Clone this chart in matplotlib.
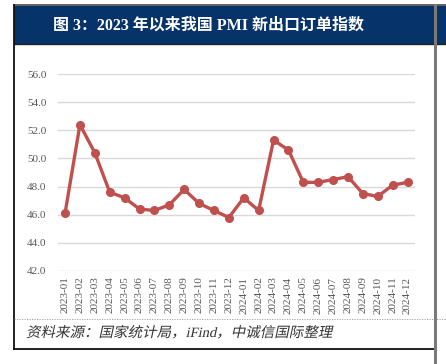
import matplotlib
matplotlib.use("Agg")
import matplotlib.pyplot as plt
from matplotlib.patches import Rectangle, PathPatch
from matplotlib.lines import Line2D
from matplotlib.textpath import TextPath
from matplotlib.font_manager import FontProperties
from matplotlib.transforms import Affine2D, IdentityTransform

months = ["2023-01", "2023-02", "2023-03", "2023-04", "2023-05", "2023-06",
          "2023-07", "2023-08", "2023-09", "2023-10", "2023-11", "2023-12",
          "2024-01", "2024-02", "2024-03", "2024-04", "2024-05", "2024-06",
          "2024-07", "2024-08", "2024-09", "2024-10", "2024-11", "2024-12"]
pmi_export = [46.1, 52.4, 50.4, 47.6, 47.2, 46.4, 46.3, 46.7, 47.8, 46.8, 46.3, 45.8,
              47.2, 46.3, 51.3, 50.6, 48.3, 48.3, 48.5, 48.7, 47.5, 47.3, 48.1, 48.3]
yticks = [42.0, 44.0, 46.0, 48.0, 50.0, 52.0, 54.0, 56.0]

title = "图 3：2023 年以来我国 PMI 新出口订单指数"
source = "资料来源：国家统计局，iFind，中诚信国际整理"

W, H = 446, 364
fig = plt.figure(figsize=(W / 100, H / 100), dpi=100)
fig.patch.set_facecolor("white")

def fx(px):
    return px / W

def fy(py):
    return 1 - py / H

# header band
fig.patches.append(Rectangle((fx(14), fy(44)), fx(446 - 14), (38) / H,
                             transform=fig.transFigure, facecolor="#06336A",
                             edgecolor="none", zorder=1))
# frame lines
fig.lines.append(Line2D([fx(14), fx(446)], [fy(5), fy(5)], transform=fig.transFigure,
                        color="#444444", lw=1.2, zorder=3))
fig.lines.append(Line2D([fx(14), fx(446)], [fy(44), fy(44)], transform=fig.transFigure,
                        color="#222222", lw=1.0, zorder=3))
fig.lines.append(Line2D([fx(14), fx(14)], [fy(5), fy(349)], transform=fig.transFigure,
                        color="#111111", lw=1.3, zorder=3))
fig.lines.append(Line2D([fx(435), fx(435)], [fy(5), fy(364)], transform=fig.transFigure,
                        color="#7A7A7A", lw=2.2, zorder=4))
fig.lines.append(Line2D([fx(14), fx(435)], [fy(349), fy(349)], transform=fig.transFigure,
                        color="#111111", lw=1.3, zorder=3))
fig.lines.append(Line2D([fx(14), fx(446)], [fy(319), fy(319)], transform=fig.transFigure,
                        color="#9A9A9A", lw=0.6, ls=(0, (1.5, 1.5)), zorder=3))

fig.text(fx(53), fy(26), title, color="white", fontsize=11.5, fontweight="bold",
         family=["Liberation Serif", "Noto Sans CJK SC"], va="center", ha="left", zorder=5)

# slanted (italic-like) source note drawn as a text path in pixel coordinates
fp = FontProperties(family=["Liberation Serif", "Noto Sans CJK SC"], weight="light")
tp = TextPath((0, 0), source, size=14.2, prop=fp)
ext = tp.get_extents()
target_w = 334 - 26
sx = target_w / (ext.width + 0.21 * ext.height)
tr = Affine2D().skew_deg(12, 0).scale(sx, 1).translate(26, H - 337)
src_path = tr.transform_path(tp)
fig.patches.append(PathPatch(src_path, transform=IdentityTransform(),
                             facecolor="#333333", edgecolor="none", lw=0, zorder=5))

ax = fig.add_axes([fx(57.6), fy(271), fx(415 - 57.6), (271 - 74) / H])
x = list(range(len(months)))
ax.plot(x, pmi_export, color="#C0504D", lw=2.4, marker="o", markersize=5.5,
        markerfacecolor="#C0504D", markeredgecolor="#C0504D", zorder=3)
ax.set_xlim(-0.5, len(months) - 0.5)
ax.set_ylim(42, 56)
ax.set_yticks(yticks)
ax.set_yticklabels([f"{v:.1f}" for v in yticks], family="Liberation Serif",
                   fontsize=8, color="#595959")
ax.set_xticks(x)
ax.set_xticklabels(months, rotation=90, family="Liberation Serif", fontsize=8,
                   color="#595959")
ax.tick_params(length=0, pad=4)
ax.tick_params(axis="y", pad=8)
ax.grid(axis="y", color="#D9D9D9", lw=1.0)
ax.set_axisbelow(True)
for s in ax.spines.values():
    s.set_visible(False)
ax.set_facecolor("none")

fig.savefig("out.png", dpi=100)
